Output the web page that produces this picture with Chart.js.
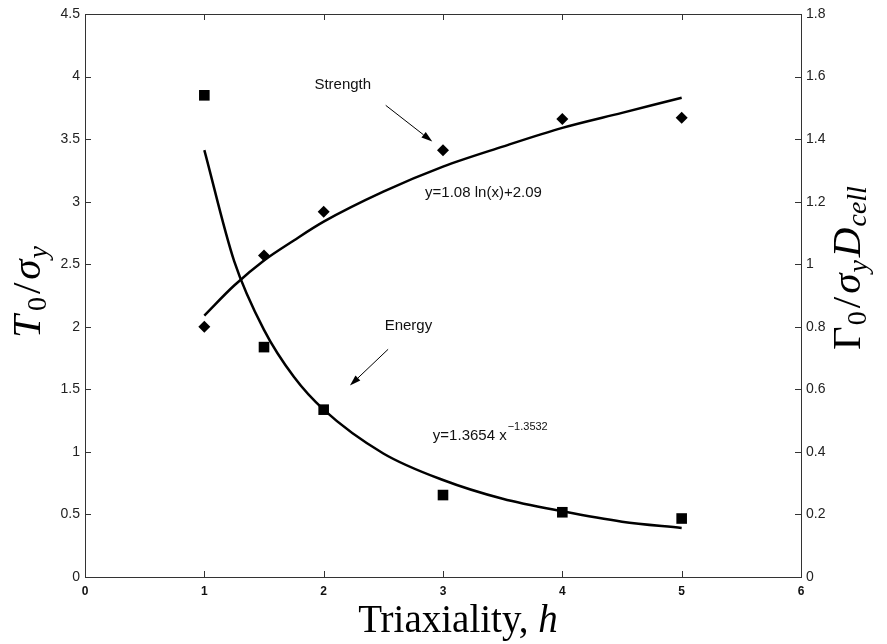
<!DOCTYPE html>
<html>
<head>
<meta charset="utf-8">
<script src="https://cdn.jsdelivr.net/npm/chart.js@4/dist/chart.umd.min.js"></script>
<style>
  html, body { margin: 0; padding: 0; background: #fff; }
  canvas { display: block; }
</style>
</head>
<body>
<canvas id="chart" width="887" height="644"></canvas>
<script>
// measured points
const triaxX = [1, 1.5, 2, 3, 4, 5];
const strengthPts = [2.0, 2.57, 2.92, 3.41, 3.66, 3.67];     // left axis
const energyPts = [1.54, 0.735, 0.535, 0.262, 0.207, 0.187];  // right axis

// fitted curves
const fitX = [1, 1.25, 1.5, 1.75, 2, 2.5, 3, 3.5, 4, 4.5, 5];
const strengthFit = [2.09, 2.33, 2.53, 2.69, 2.84, 3.08, 3.28, 3.44, 3.59, 3.71, 3.83];
const energyFit = [1.365, 1.01, 0.79, 0.64, 0.535, 0.395, 0.31, 0.25, 0.21, 0.177, 0.157];

// annotations (data coords, left axis)
const notes = [
    { text: 'Strength', x: 2.16, y: 3.93, align: 'center' },
    { text: 'Energy', x: 2.71, y: 2.01, align: 'center' },
    { text: 'y=1.08 ln(x)+2.09', x: 2.85, y: 3.07, align: 'left' }
];
const arrows = [
    { from: [2.52, 3.77], to: [2.91, 3.48] },
    { from: [2.54, 1.82], to: [2.22, 1.53] }
];
const eqPower = { x: 2.915, y: 1.13, base: 'y=1.3654 x', exp: '\u22121.3532' };

const tickFont = { family: "'Liberation Sans', Arial, sans-serif", size: 14 };
const serif = "'Liberation Serif', 'DejaVu Serif', serif";

const xy = (xs, ys) => xs.map((x, i) => ({ x: x, y: ys[i] }));
const fmt = v => String(+v.toFixed(2));

function drawRich(ctx, parts, cx, cy, rot) {
    ctx.save();
    ctx.translate(cx, cy);
    if (rot) ctx.rotate(rot);
    const fontOf = p => (p.italic ? 'italic ' : '') + p.size + 'px ' + serif;
    let total = 0;
    parts.forEach(p => { ctx.font = fontOf(p); p.w = ctx.measureText(p.t).width + (p.gap || 0); total += p.w; });
    let x = -total / 2;
    ctx.fillStyle = '#000';
    ctx.textBaseline = 'alphabetic';
    ctx.textAlign = 'left';
    parts.forEach(p => {
        ctx.font = fontOf(p);
        ctx.fillText(p.t, x, 11 + (p.dy || 0));
        x += p.w;
    });
    ctx.restore();
}

function arrow(ctx, x1, y1, x2, y2) {
    const a = Math.atan2(y2 - y1, x2 - x1);
    const hl = 11, hw = 3.5;
    ctx.save();
    ctx.strokeStyle = '#000';
    ctx.fillStyle = '#000';
    ctx.lineWidth = 1;
    ctx.beginPath();
    ctx.moveTo(x1, y1);
    ctx.lineTo(x2 - hl * Math.cos(a), y2 - hl * Math.sin(a));
    ctx.stroke();
    ctx.beginPath();
    ctx.moveTo(x2, y2);
    ctx.lineTo(x2 - hl * Math.cos(a) + hw * Math.sin(a), y2 - hl * Math.sin(a) - hw * Math.cos(a));
    ctx.lineTo(x2 - hl * Math.cos(a) - hw * Math.sin(a), y2 - hl * Math.sin(a) + hw * Math.cos(a));
    ctx.closePath();
    ctx.fill();
    ctx.restore();
}

const framePlugin = {
    id: 'frame',
    beforeDatasetsDraw(chart) {
        const { ctx, chartArea: a, scales } = chart;
        ctx.save();
        ctx.strokeStyle = '#333';
        ctx.lineWidth = 1;
        ctx.strokeRect(a.left + 0.5, a.top + 0.5, a.right - a.left, a.bottom - a.top);
        const len = 6;
        ctx.beginPath();
        scales.x.ticks.forEach(t => {
            const px = Math.round(scales.x.getPixelForValue(t.value)) + 0.5;
            ctx.moveTo(px, a.bottom); ctx.lineTo(px, a.bottom - len);
            ctx.moveTo(px, a.top); ctx.lineTo(px, a.top + len);
        });
        scales.y.ticks.forEach(t => {
            const py = Math.round(scales.y.getPixelForValue(t.value)) + 0.5;
            ctx.moveTo(a.left, py); ctx.lineTo(a.left + len, py);
        });
        scales.y2.ticks.forEach(t => {
            const py = Math.round(scales.y2.getPixelForValue(t.value)) + 0.5;
            ctx.moveTo(a.right, py); ctx.lineTo(a.right - len, py);
        });
        ctx.stroke();
        ctx.restore();
    },
    afterDraw(chart) {
        const { ctx, scales } = chart;
        const sx = v => scales.x.getPixelForValue(v);
        const sy = v => scales.y.getPixelForValue(v);

        ctx.save();
        ctx.fillStyle = '#111';
        ctx.font = "15px 'Liberation Sans', Arial, sans-serif";
        ctx.textBaseline = 'middle';
        notes.forEach(n => {
            ctx.textAlign = n.align;
            ctx.fillText(n.text, sx(n.x), sy(n.y));
        });
        ctx.textAlign = 'left';
        const bx = sx(eqPower.x), by = sy(eqPower.y);
        ctx.fillText(eqPower.base, bx, by);
        const bw = ctx.measureText(eqPower.base).width;
        ctx.font = "11px 'Liberation Sans', Arial, sans-serif";
        ctx.fillText(eqPower.exp, bx + bw + 1, by - 9);
        ctx.restore();

        arrows.forEach(ar => arrow(ctx, sx(ar.from[0]), sy(ar.from[1]), sx(ar.to[0]), sy(ar.to[1])));

        // axis titles
        drawRich(ctx, [
            { t: 'T', italic: true, size: 41, gap: 4 },
            { t: '0', size: 28, dy: 6, gap: 3 },
            { t: '/', size: 41, gap: 3 },
            { t: '\u03C3', italic: true, size: 41, gap: 1 },
            { t: 'y', italic: true, size: 28, dy: 7 }
        ], 29, 292, -Math.PI / 2);
        drawRich(ctx, [
            { t: '\u0393', size: 41, gap: 1 },
            { t: '0', size: 28, dy: 6, gap: 3 },
            { t: '/', size: 41, gap: 3 },
            { t: '\u03C3', italic: true, size: 41, gap: 1 },
            { t: 'y', italic: true, size: 28, dy: 7, gap: 3 },
            { t: 'D', italic: true, size: 41, gap: 1 },
            { t: 'cell', italic: true, size: 28, dy: 6 }
        ], 849, 268, -Math.PI / 2);
        drawRich(ctx, [
            { t: 'Triaxiality, ', size: 39 },
            { t: 'h', italic: true, size: 39 }
        ], 458, 621, 0);
    }
};

new Chart(document.getElementById('chart'), {
    type: 'scatter',
    data: {
        datasets: [
            {
                label: 'Strength fit',
                type: 'line',
                data: xy(fitX, strengthFit),
                yAxisID: 'y',
                borderColor: '#000',
                borderWidth: 2.5,
                pointRadius: 0,
                cubicInterpolationMode: 'monotone',
                fill: false
            },
            {
                label: 'Energy fit',
                type: 'line',
                data: xy(fitX, energyFit),
                yAxisID: 'y2',
                borderColor: '#000',
                borderWidth: 2.5,
                pointRadius: 0,
                cubicInterpolationMode: 'monotone',
                fill: false
            },
            {
                label: 'Strength',
                data: xy(triaxX, strengthPts),
                yAxisID: 'y',
                pointStyle: 'rectRot',
                pointRadius: 6,
                backgroundColor: '#000',
                borderColor: '#000',
                borderWidth: 0
            },
            {
                label: 'Energy',
                data: xy(triaxX, energyPts),
                yAxisID: 'y2',
                pointStyle: 'rect',
                pointRadius: 7.5,
                backgroundColor: '#000',
                borderColor: '#000',
                borderWidth: 0
            }
        ]
    },
    options: {
        responsive: false,
        animation: false,
        devicePixelRatio: 1,
        layout: { padding: { top: 14, left: 0, right: 0, bottom: 0 } },
        plugins: {
            legend: { display: false },
            tooltip: { enabled: false }
        },
        scales: {
            x: {
                type: 'linear',
                min: 0,
                max: 6,
                grid: { display: false, drawTicks: false },
                border: { display: false },
                ticks: { stepSize: 1, padding: 7, color: '#111', font: { family: tickFont.family, size: 12, weight: 'bold' }, maxRotation: 0, callback: fmt },
                afterFit: s => { s.height = 67; }
            },
            y: {
                position: 'left',
                min: 0,
                max: 4.5,
                grid: { display: false, drawTicks: false },
                border: { display: false },
                ticks: { stepSize: 0.5, padding: 5, color: '#222', font: tickFont, callback: fmt },
                afterFit: s => { s.width = 85; }
            },
            y2: {
                position: 'right',
                min: 0,
                max: 1.8,
                grid: { display: false, drawTicks: false },
                border: { display: false },
                ticks: { stepSize: 0.2, padding: 5, color: '#222', font: tickFont, callback: fmt },
                afterFit: s => { s.width = 86; }
            }
        }
    },
    plugins: [framePlugin]
});
</script>
</body>
</html>
